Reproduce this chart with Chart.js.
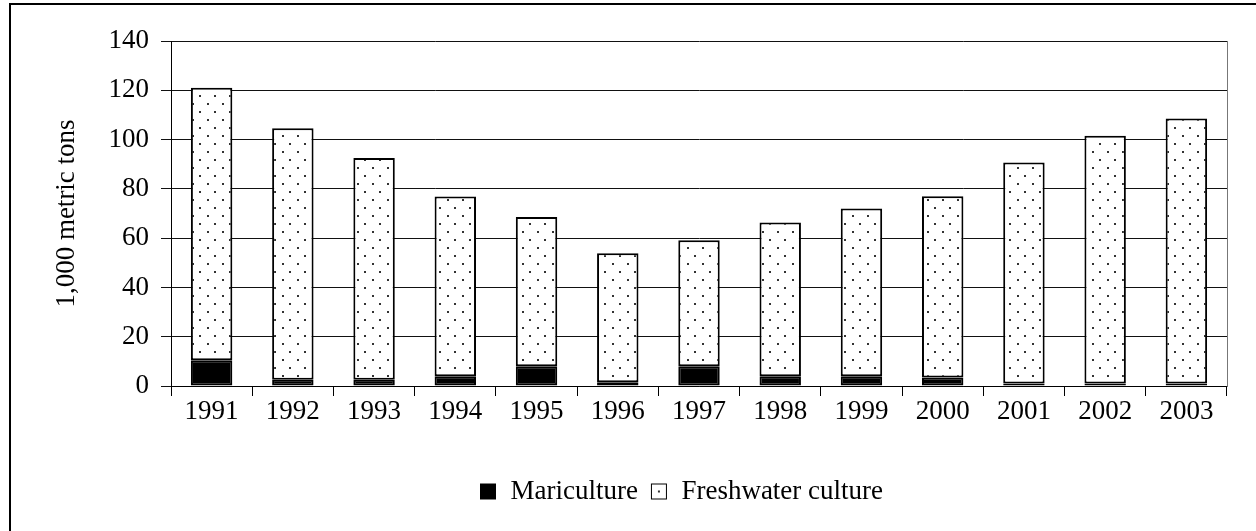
<!DOCTYPE html>
<html>
<head>
<meta charset="utf-8">
<script src="https://cdn.jsdelivr.net/npm/chart.js@4"></script>
<style>
  html, body { margin: 0; padding: 0; background: #fff; overflow: hidden; }
  #frame { position: absolute; left: 9px; top: 3px; border: 2px solid #000; width: 1340px; height: 540px; }
  canvas { display: block; }
</style>
</head>
<body>
<div id="frame"><canvas id="chart" width="1340" height="540"></canvas></div>
<script>
// data (1,000 metric tons)
const years = ["1991","1992","1993","1994","1995","1996","1997","1998","1999","2000","2001","2002","2003"];
const mariculture = [10.4, 2.5, 2.5, 4, 8, 1.5, 8, 4, 4, 3.5, 1, 1, 1];
const freshwater = [110.6, 102.1, 90.0, 72.9, 60.6, 52.4, 51.1, 62.3, 68.0, 73.5, 89.7, 100.6, 107.6];
const yTicks = [0, 20, 40, 60, 80, 100, 120, 140];

const serif = "'Liberation Serif', 'Times New Roman', serif";
const fontSize = 27;

// dotted fill
function dotPattern(){
    let c = document.createElement("canvas");
    c.width = 15; c.height = 16;
    let g = c.getContext("2d");
    g.fillStyle = "#fff";
    g.fillRect(0, 0, 15, 16);
    g.fillStyle = "#333";
    g.fillRect(1, 2, 2, 2);
    g.fillRect(8, 10, 2, 2);
    return g.createPattern(c, "repeat");
}

function legendIcon(dotted){
    let c = document.createElement("canvas");
    c.width = 18; c.height = 18;
    let g = c.getContext("2d");
    if (dotted) {
        g.fillStyle = "#fff";
        g.fillRect(0, 0, 18, 18);
        g.strokeStyle = "#000";
        g.lineWidth = 1;
        g.strokeRect(1.5, 1.5, 15, 15);
        g.fillStyle = "#333";
        g.fillRect(8, 8, 2, 2);
    } else {
        g.fillStyle = "#000";
        g.fillRect(1, 1, 16, 16);
    }
    return c;
}

const icons = [legendIcon(false), legendIcon(true)];

new Chart(document.getElementById("chart"), {
    type: "bar",
    data: {
        labels: years,
        datasets: [{
            label: "Mariculture",
            data: mariculture,
            backgroundColor: "#000",
            borderColor: "#000",
            borderWidth: 2,
            borderSkipped: false
        }, {
            label: "Freshwater culture",
            data: freshwater,
            backgroundColor: dotPattern(),
            borderColor: "#000",
            borderWidth: 2,
            borderSkipped: false
        }]
    },
    options: {
        responsive: false,
        animation: false,
        devicePixelRatio: 1,
        layout: { padding: { left: 36, right: 36, top: 36, bottom: 30 } },
        datasets: { bar: { categoryPercentage: 1, barPercentage: 0.51 } },
        plugins: {
            tooltip: { enabled: false },
            legend: {
                position: "bottom",
                labels: {
                    font: { family: serif, size: fontSize },
                    color: "#000",
                    usePointStyle: true,
                    boxWidth: 18,
                    boxHeight: 18,
                    padding: 12,
                    generateLabels: function(chart){
                        return chart.data.datasets.map(function(ds, i){
                            return {
                                text: ds.label,
                                pointStyle: icons[i],
                                fillStyle: "#000",
                                strokeStyle: "#000",
                                lineWidth: 0,
                                datasetIndex: i
                            };
                        });
                    }
                }
            }
        },
        scales: {
            x: {
                stacked: true,
                grid: { offset: true, drawOnChartArea: false, drawTicks: true, tickLength: 10, color: "#000" },
                border: { color: "#000", width: 1 },
                ticks: { font: { family: serif, size: fontSize }, color: "#000", padding: 0, maxRotation: 0 },
                afterFit: function(s){ s.height = 80; }
            },
            y: {
                stacked: true,
                min: 0,
                max: 140,
                afterBuildTicks: function(s){ s.ticks = yTicks.map(v => ({ value: v })); },
                grid: { color: "#111", tickLength: 10, drawTicks: true },
                border: { color: "#000", width: 1 },
                ticks: { font: { family: serif, size: fontSize }, color: "#000", padding: 12 },
                title: { display: true, text: "1,000 metric tons", font: { family: serif, size: fontSize }, color: "#000", padding: { top: 4, bottom: 0 } },
                afterFit: function(s){ s.width = 124; }
            },
            // empty right axis: keeps the plot width and draws the gray plot border
            y2: {
                position: "right",
                min: 0,
                max: 140,
                grid: { drawOnChartArea: false, drawTicks: false },
                border: { display: true, color: "#777", width: 1 },
                ticks: { display: false },
                afterFit: function(s){ s.width = 88; }
            }
        }
    }
});
</script>
</body>
</html>
